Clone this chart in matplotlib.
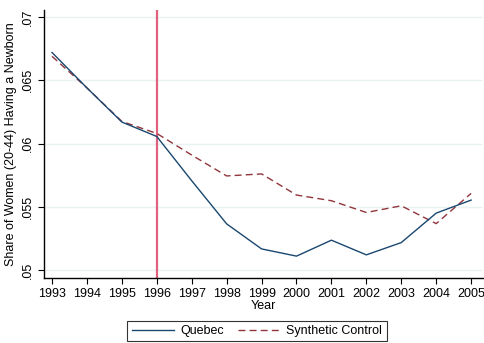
import matplotlib.pyplot as plt
from matplotlib.ticker import FuncFormatter

plt.rcParams['font.family'] = ['Liberation Sans', 'DejaVu Sans']

years = [1993, 1994, 1995, 1996, 1997, 1998, 1999, 2000, 2001, 2002, 2003, 2004, 2005]
quebec = [0.0672, 0.0644, 0.0617, 0.06056, 0.05706, 0.05365, 0.05167, 0.0511,
          0.05236, 0.0512, 0.05217, 0.0545, 0.05553]
synthetic = [0.0669, 0.0644, 0.06175, 0.0608, 0.05909, 0.05744, 0.0576, 0.05593,
             0.05548, 0.05455, 0.05508, 0.05367, 0.05606]
y_ticks = [0.05, 0.055, 0.06, 0.065, 0.07]
treat_year = 1996

fig = plt.figure(figsize=(4.84, 3.43), dpi=100)
ax = fig.add_axes([0.0909, 0.1895, 0.907, 0.7813])

for yt in y_ticks:
    ax.axhline(yt, color='#eaf2f3', lw=1.0, zorder=0)
ax.axvline(treat_year, color='#e0607e', lw=1.6, zorder=1)
ax.plot(years, quebec, color='#1a476f', lw=1.0, label='Quebec', zorder=3)
ax.plot(years, synthetic, color='#90353b', lw=1.0, ls=(0, (5, 3)),
        label='Synthetic Control', zorder=2)

ax.set_xlim(1992.77, 2005.34)
ax.set_ylim(0.04937, 0.07056)
ax.set_xticks(years)
ax.set_yticks(y_ticks)
ax.yaxis.set_major_formatter(FuncFormatter(lambda v, p: ('%g' % v).lstrip('0')))
for lbl in ax.get_yticklabels():
    lbl.set_rotation(90)
    lbl.set_va('center')
ax.tick_params(labelsize=9, length=4, width=0.8, color='black', pad=3)

for s in ['top', 'right']:
    ax.spines[s].set_visible(False)
for s in ['left', 'bottom']:
    ax.spines[s].set_linewidth(1.0)

ax.set_xlabel('Year', fontsize=9, labelpad=0)
ax.set_ylabel('Share of Women (20-44) Having a Newborn', fontsize=9, labelpad=4)

leg = fig.legend(loc='center', bbox_to_anchor=(257 / 484, 1 - 331 / 343), ncol=2,
                 fontsize=9, frameon=True, fancybox=False, edgecolor='black',
                 handlelength=3.4, handletextpad=0.5, columnspacing=1.1,
                 borderpad=0.35)
leg.get_frame().set_linewidth(0.8)

plt.savefig('out.png', dpi=100)
